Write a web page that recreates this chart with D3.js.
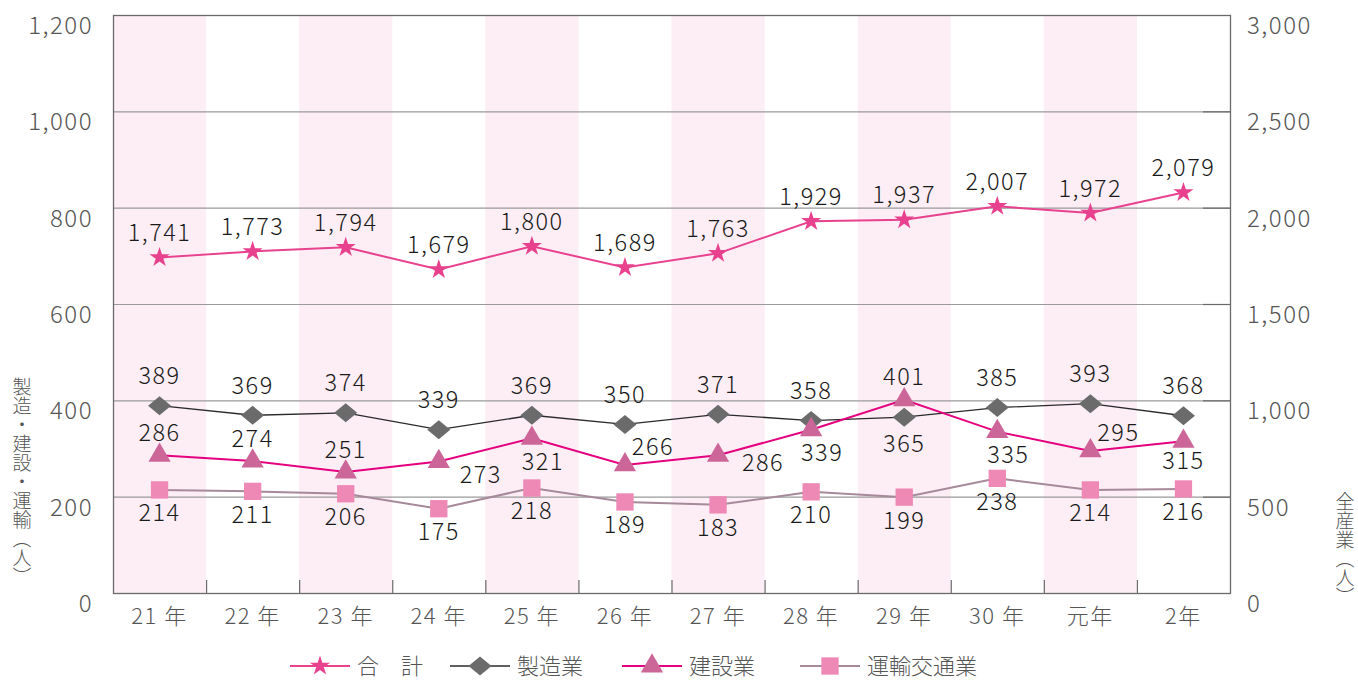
<!DOCTYPE html>
<html>
<head>
<meta charset="utf-8">
<script src="https://cdn.jsdelivr.net/npm/d3@7"></script>
<style>
  body { margin: 0; background: #fff; }
  svg { display: block; font-family: "Noto Sans CJK JP", "Noto Sans", sans-serif; }
</style>
</head>
<body>
<div id="chart"></div>
<script>
const years = ['21 年', '22 年', '23 年', '24 年', '25 年', '26 年', '27 年', '28 年', '29 年', '30 年', '元年', '2年'];
const total = [1741, 1773, 1794, 1679, 1800, 1689, 1763, 1929, 1937, 2007, 1972, 2079];
const manufacturing = [389, 369, 374, 339, 369, 350, 371, 358, 365, 385, 393, 368];
const construction = [286, 274, 251, 273, 321, 266, 286, 339, 401, 335, 295, 315];
const transport = [214, 211, 206, 175, 218, 189, 183, 210, 199, 238, 214, 216];
const leftTicks = [0, 200, 400, 600, 800, 1000, 1200];
const rightTicks = [0, 500, 1000, 1500, 2000, 2500, 3000];
const legendNames = ['合\u3000計', '製造業', '建設業', '運輸交通業'];

// where each value label sits relative to its marker
const mfgLabelSide = ['up', 'up', 'up', 'up', 'up', 'up', 'up', 'up', 'down', 'up', 'up', 'up'];
const buildLabelSide = ['up', 'up', 'up', 'downRight', 'down', 'upRight', 'right', 'down', 'up', 'down', 'upRight', 'below'];

const width = 1358, height = 681;
const plotLeft = 113, plotRight = 1230, plotTop = 15, plotBottom = 593;

const svg = d3.select('#chart')
  .append('svg')
    .attr('width', width)
    .attr('height', height);

const x = d3.scaleBand().domain(years).range([plotLeft, plotRight]);
const yL = d3.scaleLinear().domain([0, 1200]).range([plotBottom, plotTop]);
const yR = d3.scaleLinear().domain([0, 3000]).range([plotBottom, plotTop]);
const cx = d => x(d) + x.bandwidth() / 2;

// pink bands on every other year
svg.append('g')
  .selectAll('rect')
  .data(years.filter((d, i) => i % 2 === 0))
  .join('rect')
    .attr('x', d => x(d))
    .attr('y', plotTop)
    .attr('width', x.bandwidth())
    .attr('height', plotBottom - plotTop)
    .attr('fill', '#fdedf4');

// grid lines
svg.append('g')
  .selectAll('line')
  .data(leftTicks.slice(1, -1))
  .join('line')
    .attr('x1', plotLeft)
    .attr('x2', plotRight)
    .attr('y1', d => yL(d) + 0.5)
    .attr('y2', d => yL(d) + 0.5)
    .attr('stroke', '#9a9a9a')
    .attr('stroke-width', 1.2);

// inner ticks on the right axis
svg.append('g')
  .selectAll('line')
  .data(rightTicks.slice(1, -1))
  .join('line')
    .attr('x1', plotRight - 27)
    .attr('x2', plotRight)
    .attr('y1', d => yR(d) + 0.5)
    .attr('y2', d => yR(d) + 0.5)
    .attr('stroke', '#6a6a6a')
    .attr('stroke-width', 1.2);

// inner ticks on the bottom axis
svg.append('g')
  .selectAll('line')
  .data(years.slice(1))
  .join('line')
    .attr('x1', d => x(d) + 0.5)
    .attr('x2', d => x(d) + 0.5)
    .attr('y1', plotBottom - 13)
    .attr('y2', plotBottom)
    .attr('stroke', '#6a6a6a')
    .attr('stroke-width', 1.2);

// frame
svg.append('rect')
  .attr('x', plotLeft + 0.5)
  .attr('y', plotTop + 0.5)
  .attr('width', plotRight - plotLeft)
  .attr('height', plotBottom - plotTop)
  .attr('fill', 'none')
  .attr('stroke', '#6a6a6a')
  .attr('stroke-width', 1.3);

// axis labels
const numStyle = sel => sel
  .style('font-size', '24px')
  .style('font-weight', 300)
  .style('letter-spacing', '1.5px');

svg.append('g')
  .selectAll('text')
  .data(leftTicks)
  .join('text')
    .attr('x', 93)
    .attr('y', d => yL(d) + 19)
    .attr('text-anchor', 'end')
    .call(numStyle)
    .attr('fill', '#555')
    .text(d => d3.format(',')(d));

svg.append('g')
  .selectAll('text')
  .data(rightTicks)
  .join('text')
    .attr('x', 1247)
    .attr('y', d => yR(d) + 19)
    .attr('text-anchor', 'start')
    .call(numStyle)
    .attr('fill', '#555')
    .text(d => d3.format(',')(d));

svg.append('g')
  .selectAll('text')
  .data(years)
  .join('text')
    .attr('x', d => cx(d))
    .attr('y', 624)
    .attr('text-anchor', 'middle')
    .call(numStyle)
    .style('font-size', '22px')
    .attr('fill', '#555')
    .text(d => d);

// vertical axis titles
svg.append('text')
  .attr('x', 22)
  .attr('y', 377)
  .style('writing-mode', 'vertical-rl')
  .style('font-size', '19px')
  .style('font-weight', 300)
  .attr('fill', '#555')
  .text('製造・建設・運輸（人）');

svg.append('text')
  .attr('x', 1345)
  .attr('y', 492)
  .style('writing-mode', 'vertical-rl')
  .style('font-size', '19px')
  .style('font-weight', 300)
  .attr('fill', '#555')
  .text('全産業（人）');

// marker shapes
const diamond = { draw(ctx) { ctx.moveTo(0, -9.5); ctx.lineTo(11.5, 0); ctx.lineTo(0, 9.5); ctx.lineTo(-11.5, 0); ctx.closePath(); } };
const shapes = {
  star: d3.symbol(d3.symbolStar, 125)(),
  diamond: d3.symbol(diamond)(),
  triangle: d3.symbol(d3.symbolTriangle, 215)(),
  square: d3.symbol(d3.symbolSquare, 300)()
};

const series = [
  { values: total, y: yR, line: '#e8418e', lw: 2, shape: 'star', fill: '#e8418e' },
  { values: manufacturing, y: yL, line: '#2a2a2a', lw: 1.3, shape: 'diamond', fill: '#6b6b6b' },
  { values: construction, y: yL, line: '#e4007f', lw: 2, shape: 'triangle', fill: '#cc6699' },
  { values: transport, y: yL, line: '#a6899a', lw: 2, shape: 'square', fill: '#ee88b5' }
];

series.forEach(s => {
  const pts = s.values.map((v, i) => [cx(years[i]), s.y(v)]);
  svg.append('path')
    .attr('d', d3.line()(pts))
    .attr('fill', 'none')
    .attr('stroke', s.line)
    .attr('stroke-width', s.lw);
});

series.forEach(s => {
  svg.append('g')
    .selectAll('path')
    .data(s.values)
    .join('path')
      .attr('transform', (d, i) => `translate(${cx(years[i])},${s.y(d)})`)
      .attr('d', shapes[s.shape])
      .attr('fill', s.fill);
});

// value labels
const offsets = {
  total: { up: [0, -25] },
  mfg: { up: [0, -30], down: [0, 26] },
  build: { up: [0, -23], down: [11, 23], below: [0, 19], downRight: [42, 13], right: [45, 7], upRight: [28, -18] },
  trans: { down: [0, 23] }
};
const labelSets = [
  { values: total, y: yR, fmt: d3.format(','), off: i => offsets.total.up },
  { values: manufacturing, y: yL, fmt: String, off: i => offsets.mfg[mfgLabelSide[i]] },
  { values: construction, y: yL, fmt: String, off: i => offsets.build[buildLabelSide[i]] },
  { values: transport, y: yL, fmt: String, off: i => offsets.trans.down }
];

labelSets.forEach(s => {
  svg.append('g')
    .selectAll('text')
    .data(s.values)
    .join('text')
      .attr('x', (d, i) => cx(years[i]) + s.off(i)[0])
      .attr('y', (d, i) => s.y(d) + s.off(i)[1] + 8.5)
      .attr('text-anchor', 'middle')
      .call(numStyle)
      .style('font-size', '23.5px')
      .attr('fill', '#1a1a1a')
      .text(d => s.fmt(d));
});

// legend
const legendX = [290, 450, 622, 800];
const legend = svg.append('g')
  .selectAll('g')
  .data(series)
  .join('g')
    .attr('transform', (d, i) => `translate(${legendX[i]},666)`);

legend.append('line')
  .attr('x1', 0)
  .attr('x2', 60)
  .attr('stroke', d => d.line)
  .attr('stroke-width', d => d.lw);

legend.append('path')
  .attr('transform', 'translate(30,0)')
  .attr('d', d => shapes[d.shape])
  .attr('fill', d => d.fill);

legend.append('text')
  .attr('x', 67)
  .attr('y', 7.5)
  .style('font-size', '22px')
  .style('font-weight', 300)
  .attr('fill', '#555')
  .text((d, i) => legendNames[i]);
</script>
</body>
</html>
